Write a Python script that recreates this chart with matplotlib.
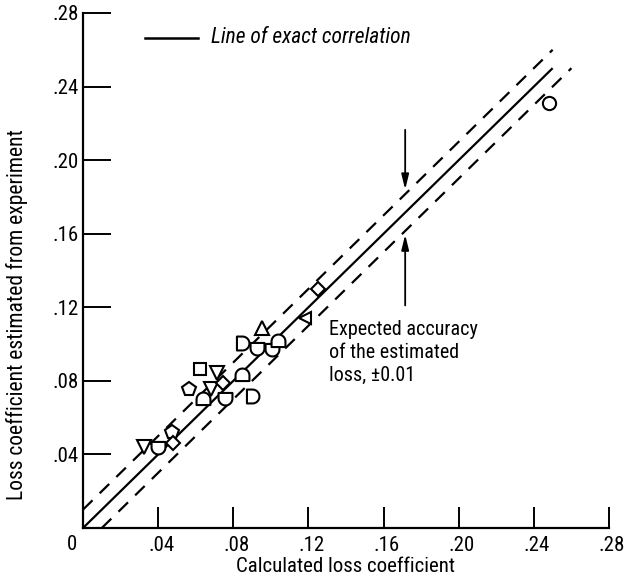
import numpy as np
import matplotlib
matplotlib.use("Agg")
import matplotlib.pyplot as plt
from matplotlib.path import Path
from matplotlib.ticker import FuncFormatter
from matplotlib import font_manager as fm
from matplotlib.transforms import ScaledTranslation

# ---------------- data ----------------
calc_loss = [0.248, 0.125, 0.118, 0.0955, 0.0845, 0.0925, 0.1005, 0.104,
             0.0623, 0.0712, 0.0848, 0.0564, 0.068, 0.0747, 0.0637, 0.0756,
             0.0902, 0.0325, 0.0401, 0.0472, 0.048]
exp_loss = [0.231, 0.130, 0.114, 0.109, 0.1008, 0.0977, 0.0972, 0.1019,
            0.0863, 0.0845, 0.0832, 0.0755, 0.0755, 0.0787, 0.070, 0.0706,
            0.072, 0.0442, 0.0442, 0.0524, 0.0461]
symbols = ["circle", "diamond", "ltri", "utri", "dright", "ddown", "ddown", "dup",
           "square", "dtri", "dup", "pent", "dtri", "diamond", "dup", "ddown",
           "dright", "dtri", "ddown", "pent", "diamond"]
ticks = [0.04, 0.08, 0.12, 0.16, 0.20, 0.24, 0.28]
exact_line = [0.0, 0.25]
accuracy = 0.01
legend_text = "Line of exact correlation"
note_text = "Expected accuracy\nof the estimated\nloss, \u00b10.01"
xlabel = "Calculated loss coefficient"
ylabel = "Loss coefficient estimated from experiment"

# ---------------- font: prefer a narrow face ----------------
names = {f.name for f in fm.fontManager.ttflist}
narrow = None
for cand in ["Liberation Sans Narrow", "DejaVu Sans Condensed", "Roboto Condensed",
             "Open Sans Condensed", "Noto Sans Condensed"]:
    if cand in names:
        narrow = cand
        break
stretch = "normal"
if narrow is None:
    cond = [f for f in fm.fontManager.ttflist
            if f.name == "DejaVu Sans" and str(f.stretch) in ("condensed", "semi-condensed", "75", "87")]
    if cond:
        narrow = "DejaVu Sans"
        stretch = "condensed"
if narrow is None:
    narrow = "DejaVu Sans"
plt.rcParams['font.family'] = [narrow, 'DejaVu Sans']
plt.rcParams['font.stretch'] = stretch
is_narrow = (narrow != "DejaVu Sans") or stretch == "condensed"
fs = 15 if is_narrow else 12
tfs = 15 if is_narrow else 13

# ---------------- custom marker shapes ----------------
def d_shape(rot):
    th = np.linspace(-np.pi / 2, np.pi / 2, 30)
    xs = list(np.cos(th)) + [-0.8, -0.8]
    ys = list(np.sin(th)) + [1.0, -1.0]
    pts = np.column_stack([xs, ys])
    pts = np.vstack([pts, pts[:1]])
    c, s = np.cos(rot), np.sin(rot)
    R = np.array([[c, -s], [s, c]])
    pts = pts @ R.T
    codes = [Path.MOVETO] + [Path.LINETO] * (len(pts) - 2) + [Path.CLOSEPOLY]
    return Path(pts, codes)

marker_map = {
    "circle": ("o", 9.5),
    "diamond": ("D", 7.0),
    "square": ("s", 8.5),
    "utri": ("^", 9.5),
    "dtri": ("v", 9.5),
    "ltri": ("<", 9.0),
    "pent": ("p", 10.0),
    "dright": (d_shape(0.0), 10.0),
    "ddown": (d_shape(-np.pi / 2), 10.0),
    "dup": (d_shape(np.pi / 2), 10.0),
}

fig = plt.figure(figsize=(6.25, 5.83), dpi=100)
ax = fig.add_axes([83 / 625, 1 - 528 / 583, (609 - 83) / 625, (528 - 13) / 583])
ax.set_xlim(0, 0.28)
ax.set_ylim(0, 0.28)

# lines
ax.plot(exact_line, exact_line, color="black", lw=1.6, solid_capstyle="butt")
ax.plot(exact_line, [v + accuracy for v in exact_line], color="black", lw=1.6,
        dashes=(6, 4.5))
ax.plot([v + accuracy for v in exact_line], exact_line, color="black", lw=1.6,
        dashes=(6, 4.5))

# data points
for x, y, s in zip(calc_loss, exp_loss, symbols):
    m, ms = marker_map[s]
    ax.plot([x], [y], linestyle="none", marker=m, markersize=ms,
            markerfacecolor="white", markeredgecolor="black",
            markeredgewidth=1.5, zorder=3)

# spines & ticks
for side in ("top", "right"):
    ax.spines[side].set_visible(False)
for side in ("left", "bottom"):
    ax.spines[side].set_linewidth(1.6)
ax.set_xticks(ticks)
ax.set_yticks(ticks)
fmt = FuncFormatter(lambda v, p: ("%.2f" % v).lstrip("0"))
ax.xaxis.set_major_formatter(fmt)
ax.yaxis.set_major_formatter(fmt)
ax.tick_params(axis="x", direction="in", length=15, width=1.4, pad=6, labelsize=tfs)
ax.tick_params(axis="y", direction="in", length=20, width=1.4, pad=3, labelsize=tfs)
for lab in ax.get_xticklabels():
    lab.set_transform(lab.get_transform() + ScaledTranslation(3 / 100, 0, fig.dpi_scale_trans))

ax.set_xlabel(xlabel, fontsize=fs, labelpad=1)
ax.set_ylabel(ylabel, fontsize=fs + 0.5, labelpad=10)
ax.yaxis.set_label_coords(-0.105, 0.415)

# origin label
fig.text(72 / 625, 1 - 544 / 583, "0", ha="center", va="center", fontsize=tfs)

# legend (manual)
ax.plot([0.033, 0.061], [0.2665, 0.2665], color="black", lw=1.8, clip_on=False)
ax.text(0.068, 0.2665, legend_text, style="italic", fontsize=fs + 0.5,
        ha="left", va="center")

# arrows and annotation
ax.annotate("", xy=(0.1715, 0.1825), xytext=(0.1715, 0.218),
            arrowprops=dict(arrowstyle="-|>,head_length=0.9,head_width=0.22",
                            color="black", lw=1.3))
ax.annotate("", xy=(0.1715, 0.161), xytext=(0.1715, 0.1195),
            arrowprops=dict(arrowstyle="-|>,head_length=0.9,head_width=0.22",
                            color="black", lw=1.3))
ax.text(0.131, 0.0955, note_text, fontsize=fs - 0.5, ha="left", va="center",
        linespacing=1.25)

fig.savefig("out.png", dpi=100)
